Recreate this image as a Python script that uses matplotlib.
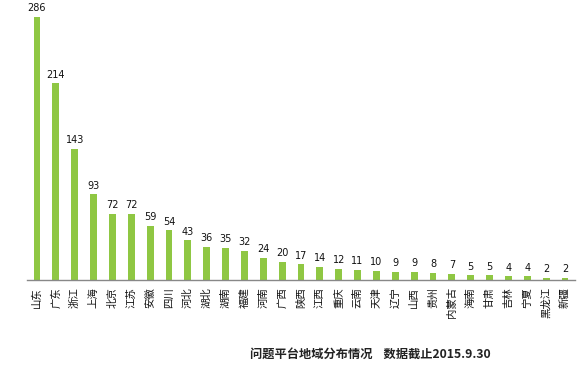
import numpy as np
import matplotlib
matplotlib.use("Agg")
import matplotlib.pyplot as plt

plt.rcParams['font.family'] = ['Noto Sans CJK SC', 'DejaVu Sans']

# Data
provinces = ["山东", "广东", "浙江", "上海", "北京", "江苏", "安徽", "四川", "河北", "湖北",
             "湖南", "福建", "河南", "广西", "陕西", "江西", "重庆", "云南", "天津", "辽宁",
             "山西", "贵州", "内蒙古", "海南", "甘肃", "吉林", "宁夏", "黑龙江", "新疆"]
counts = [286, 214, 143, 93, 72, 72, 59, 54, 43, 36,
          35, 32, 24, 20, 17, 14, 12, 11, 10, 9,
          9, 8, 7, 5, 5, 4, 4, 2, 2]


def main():
    fig = plt.figure(figsize=(5.81, 3.69), dpi=100)
    ax = fig.add_axes([27 / 581, 89 / 369, 548 / 581, 280 / 369])

    x = np.arange(len(provinces))
    ax.bar(x, counts, width=0.37, color="#8fc743", zorder=2)

    for xi, v in zip(x, counts):
        ax.text(xi, v + 4, str(v), ha="center", va="bottom", fontsize=7,
                family="DejaVu Sans", color="#111111")

    ax.set_xlim(-0.53, len(provinces) - 0.47)
    ax.set_ylim(0, 286 * 280 / 263)
    ax.set_xticks(x)
    ax.set_xticklabels(provinces, rotation=90, fontsize=7.5, color="#111111")
    ax.tick_params(axis="x", length=0, pad=5)
    ax.set_yticks([])

    for s in ["top", "right", "left"]:
        ax.spines[s].set_visible(False)
    ax.spines["bottom"].set_color("#888888")
    ax.spines["bottom"].set_linewidth(1)

    fig.text(250 / 581, 1 - 354 / 369, "问题平台地域分布情况    数据截止2015.9.30",
             ha="left", va="center", fontsize=8.8, fontweight="bold", color="#222222")

    fig.savefig("out.png", dpi=100)


if __name__ == "__main__":
    main()
